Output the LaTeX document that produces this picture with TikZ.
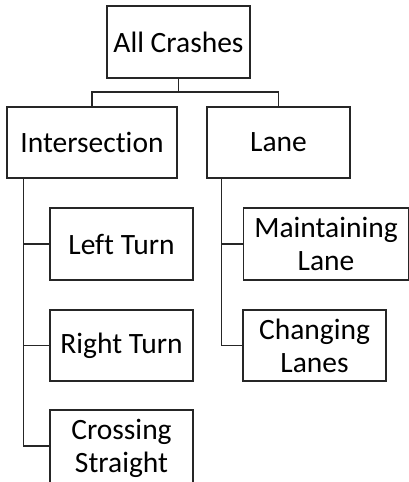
\documentclass[tikz,border=0pt]{standalone}
\usepackage{fontspec}
\setmainfont[Ligatures=NoCommon]{Carlito}
\begin{document}
\begin{tikzpicture}[x=1pt,y=1pt,
  box/.style={draw=black!85, line width=1.1pt, inner sep=0pt, align=center,
    font=\fontsize{29.5}{33}\selectfont},
  conn/.style={draw=black!85, line width=1.1pt}]
\useasboundingbox (0,0) rectangle (409,-482);
\node[box, minimum width=143, minimum height=72] (all) at (178.5,-42) {All Crashes};
\node[box, minimum width=170, minimum height=71] (inter) at (92,-142.5) {Intersection};
\node[box, minimum width=143, minimum height=71] (lane) at (278.5,-142.5) {Lane};
\node[box, minimum width=143, minimum height=72] (left) at (121.5,-244) {Left Turn};
\node[box, minimum width=143, minimum height=71] (right) at (121.5,-345.5) {Right Turn};
\node[box, minimum width=143, minimum height=76] (cross) at (121.5,-448) {Crossing\\Straight};
\node[box, minimum width=165, minimum height=72] (maint) at (326,-244) {Maintaining\\Lane};
\node[box, minimum width=143, minimum height=71] (chg) at (314.5,-345.5) {Changing\\Lanes};
\coordinate (split) at (178.5,-92);
\draw[conn] (all.south) -- (split);
\draw[conn] (split) -| (inter.north);
\draw[conn] (split) -| (lane.north);
\draw[conn] ([xshift=17pt]inter.south west) |- (left.west);
\draw[conn] ([xshift=17pt]inter.south west) |- (right.west);
\draw[conn] ([xshift=17pt]inter.south west) |- ([yshift=2pt]cross.west);
\draw[conn] ([xshift=15pt]lane.south west) |- (maint.west);
\draw[conn] ([xshift=15pt]lane.south west) |- (chg.west);
\end{tikzpicture}
\end{document}
